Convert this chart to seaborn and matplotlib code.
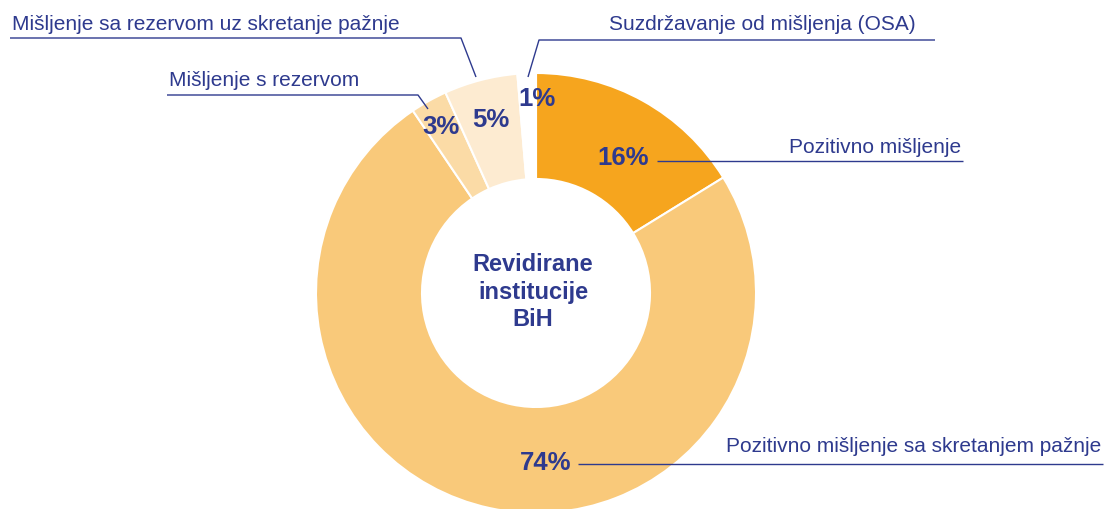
import matplotlib
matplotlib.use("Agg")
import matplotlib.pyplot as plt
import seaborn as sns

categories = [
    "Pozitivno mišljenje",
    "Pozitivno mišljenje sa skretanjem pažnje",
    "Mišljenje s rezervom",
    "Mišljenje sa rezervom uz skretanje pažnje",
    "Suzdržavanje od mišljenja (OSA)",
]
# shares (labels are rounded)
values = [16.2, 74.3, 2.7, 5.4, 1.35]
pct_labels = ["16%", "74%", "3%", "5%", "1%"]
colors = ["#F6A51E", "#F9C97A", "#FBDBA6", "#FDEBD1", "#FFFFFF"]
center_title = "Revidirane\ninstitucije\nBiH"

sns.set_theme(style="white")
plt.rcParams['font.family'] = ['Liberation Sans', 'DejaVu Sans']

W, H = 1109, 509
BLUE = "#2E3A8E"
fig = plt.figure(figsize=(W / 100, H / 100), dpi=100)
ax = fig.add_axes([0, 0, 1, 1])

def Y(y):
    return H - y

cx, cy, R, r_in = 536, 293, 220, 114
ax.pie(values, colors=colors, startangle=90, counterclock=False,
       radius=R, center=(cx, Y(cy)),
       wedgeprops=dict(width=R - r_in, edgecolor="white", linewidth=1.5))
ax.set_xlim(0, W)
ax.set_ylim(0, H)
ax.set_aspect("equal")
ax.axis("off")

# centre text
ax.text(533, Y(292), center_title, ha="center", va="center", fontsize=17,
        fontweight="bold", color=BLUE, linespacing=1.25)

# percentage labels
pct_pos = [(623, 158), (546, 463), (441, 127), (491, 120), (537, 99)]
for lab, (x, y) in zip(pct_labels, pct_pos):
    ax.text(x, Y(y), lab, ha="center", va="center", fontsize=18.5,
            fontweight="bold", color=BLUE)

lw = 1.0
# leader lines
leaders = [
    [(657, 161), (963, 161)],
    [(578, 464), (1103, 464)],
    [(428, 109), (418, 95), (167, 95)],
    [(476, 77), (461, 38), (10, 38)],
    [(528, 77), (539, 40), (935, 40)],
]
for pts in leaders:
    xs = [p[0] for p in pts]
    ys = [Y(p[1]) for p in pts]
    ax.plot(xs, ys, color=BLUE, lw=lw, solid_capstyle="butt")

# category labels
cat_pos = [
    (961, 147, "right"),
    (1101, 447, "right"),
    (169, 80, "left"),
    (12, 24, "left"),
    (916, 24, "right"),
]
for name, (x, y, ha) in zip(categories, cat_pos):
    ax.text(x, Y(y), name, ha=ha, va="center", fontsize=15, color=BLUE)

fig.savefig("out.png", dpi=100)
